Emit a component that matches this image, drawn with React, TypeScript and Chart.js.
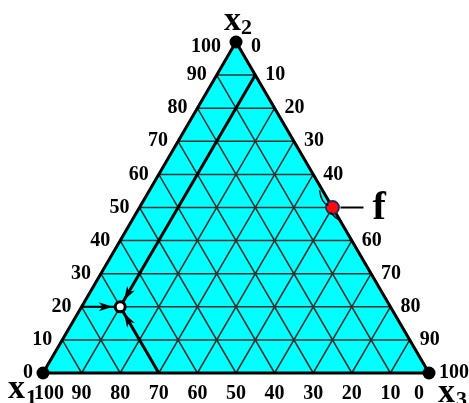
import React, { useEffect, useRef } from 'react';
import { Chart, registerables } from 'chart.js';

Chart.register(...registerables);

// ---- data ----
const gridValues = [10, 20, 30, 40, 50, 60, 70, 80, 90];
const x2Ticks = [100, 90, 80, 70, 60, 50, 40, 30, 20, 10, 0]; // left side
const x3Ticks = [0, 10, 20, 30, 40, 60, 70, 80, 90, 100]; // right side (50 hidden by f)
const x1Ticks = [100, 90, 80, 70, 60, 50, 40, 30, 20, 10, 0]; // bottom
const vertexNames = ['1', '2', '3'];
const mixPoint = [70, 20, 10]; // x1, x2, x3
const feedPoint = [0, 50, 50];
const feedLabel = 'f';
const arrowStarts = [
  [80, 20, 0],
  [70, 0, 30],
  [0, 90, 10],
];

function tern(a: number, b: number, c: number) {
  const s = a + b + c;
  return { x: (c + b / 2) / s, y: b / s };
}

const SERIF = '"Liberation Serif", "Times New Roman", serif';

const decorPlugin = {
  id: 'ternaryDecor',
  afterDatasetsDraw(chart: any) {
    const { ctx } = chart;
    const xs = chart.scales.x;
    const ys = chart.scales.y;
    const P = (a: number, b: number, c: number) => {
      const t = tern(a, b, c);
      return { x: xs.getPixelForValue(t.x), y: ys.getPixelForValue(t.y) };
    };
    ctx.save();
    ctx.fillStyle = '#000';
    ctx.strokeStyle = '#000';

    // arrowheads toward the mix point
    const m = P(mixPoint[0], mixPoint[1], mixPoint[2]);
    arrowStarts.forEach(([a, b, c]) => {
      const s = P(a, b, c);
      const dx = m.x - s.x;
      const dy = m.y - s.y;
      const len = Math.hypot(dx, dy);
      const ux = dx / len;
      const uy = dy / len;
      const tipX = m.x - ux * 7.5;
      const tipY = m.y - uy * 7.5;
      const bx = tipX - ux * 14;
      const by = tipY - uy * 14;
      ctx.beginPath();
      ctx.moveTo(tipX, tipY);
      ctx.lineTo(bx - uy * 4.5, by + ux * 4.5);
      ctx.lineTo(bx + ux * 4, by + uy * 4);
      ctx.lineTo(bx + uy * 4.5, by - ux * 4.5);
      ctx.closePath();
      ctx.fill();
    });

    // feed point decorations
    const f = P(feedPoint[0], feedPoint[1], feedPoint[2]);
    ctx.lineWidth = 1.5;
    ctx.beginPath();
    ctx.moveTo(f.x - 13, f.y - 17);
    ctx.quadraticCurveTo(f.x - 11, f.y - 4, f.x - 4, f.y - 2);
    ctx.stroke();
    ctx.beginPath();
    ctx.moveTo(f.x - 2, f.y + 5);
    ctx.quadraticCurveTo(f.x + 3, f.y + 11, f.x + 9, f.y + 14);
    ctx.stroke();
    ctx.lineWidth = 2;
    ctx.beginPath();
    ctx.moveTo(f.x + 8, f.y);
    ctx.lineTo(f.x + 31, f.y);
    ctx.stroke();
    ctx.font = `bold 40px ${SERIF}`;
    ctx.textAlign = 'left';
    ctx.textBaseline = 'alphabetic';
    ctx.fillText(feedLabel, f.x + 40, f.y + 11);

    // tick labels
    ctx.font = `bold 20px ${SERIF}`;
    ctx.textBaseline = 'middle';
    ctx.textAlign = 'right';
    x2Ticks.forEach((v) => {
      const p = P(100 - v, v, 0);
      const top = v === 100;
      ctx.fillText(String(v), p.x - (top ? 15 : 10), p.y + (top ? 5 : 0));
    });
    ctx.textAlign = 'left';
    x3Ticks.forEach((v) => {
      const p = P(0, 100 - v, v);
      const top = v === 0;
      ctx.fillText(String(v), p.x + (top ? 15 : 10), p.y + (top ? 5 : 0));
    });
    ctx.textAlign = 'center';
    x1Ticks.forEach((v) => {
      const p = P(v, 0, 100 - v);
      const dx = v === 100 ? 6 : v === 0 ? -10 : 0;
      ctx.fillText(String(v), p.x + dx, p.y + 21);
    });

    // vertex names
    ctx.textBaseline = 'alphabetic';
    ctx.textAlign = 'left';
    const v1 = P(100, 0, 0);
    const v2 = P(0, 100, 0);
    const v3 = P(0, 0, 100);
    const drawName = (p: any, dx: number, dy: number, sub: string, sdx: number, sdy: number) => {
      ctx.font = `bold 34px ${SERIF}`;
      ctx.fillText('x', p.x + dx, p.y + dy);
      ctx.font = `bold 22px ${SERIF}`;
      ctx.fillText(sub, p.x + sdx, p.y + sdy);
    };
    drawName(v2, -12, -12, vertexNames[1], 5, -8);
    drawName(v1, -35, 25, vertexNames[0], -17, 31);
    drawName(v3, 9, 29, vertexNames[2], 27, 33);

    ctx.restore();
  },
};

function lineDs(points: { x: number; y: number }[], color: string, width: number, order: number) {
  return {
    type: 'scatter' as const,
    data: points,
    showLine: true,
    borderColor: color,
    borderWidth: width,
    pointRadius: 0,
    fill: false,
    order,
  };
}

export default function App() {
  const ref = useRef<HTMLCanvasElement | null>(null);

  useEffect(() => {
    if (!ref.current) return;
    const T = (a: number, b: number, c: number) => tern(a, b, c);
    const datasets: any[] = [];

    // triangle fill
    datasets.push({
      data: [T(100, 0, 0), T(0, 100, 0), T(0, 0, 100)],
      showLine: true,
      borderWidth: 0,
      borderColor: 'rgba(0,0,0,0)',
      backgroundColor: '#00ffff',
      fill: 'origin',
      pointRadius: 0,
      order: 100,
    });

    // grid lines
    gridValues.forEach((v) => {
      datasets.push(lineDs([T(100 - v, v, 0), T(0, v, 100 - v)], '#3b2c2c', 1.5, 50));
      datasets.push(lineDs([T(v, 0, 100 - v), T(v, 100 - v, 0)], '#3b2c2c', 1.5, 50));
      datasets.push(lineDs([T(100 - v, 0, v), T(0, 100 - v, v)], '#3b2c2c', 1.5, 50));
    });

    // outer triangle
    datasets.push({
      ...lineDs([T(100, 0, 0), T(0, 100, 0), T(0, 0, 100), T(100, 0, 0)], '#000', 3, 20),
      borderJoinStyle: 'miter',
    });

    // construction lines to the mix point
    const m = T(mixPoint[0], mixPoint[1], mixPoint[2]);
    datasets.push(lineDs([T(arrowStarts[0][0], arrowStarts[0][1], arrowStarts[0][2]), m], '#000', 2, 10));
    datasets.push(lineDs([T(arrowStarts[1][0], arrowStarts[1][1], arrowStarts[1][2]), m], '#000', 3, 10));
    datasets.push(lineDs([T(arrowStarts[2][0], arrowStarts[2][1], arrowStarts[2][2]), m], '#000', 3, 10));

    // vertex dots
    datasets.push({
      data: [T(100, 0, 0), T(0, 100, 0), T(0, 0, 100)],
      showLine: false,
      pointRadius: 6.5,
      pointBackgroundColor: '#000',
      pointBorderWidth: 0,
      order: 1,
    });
    // mix point
    datasets.push({
      data: [m],
      showLine: false,
      pointRadius: 5,
      pointBackgroundColor: '#fff',
      pointBorderColor: '#000',
      pointBorderWidth: 3,
      order: 1,
    });
    // feed point
    datasets.push({
      data: [T(feedPoint[0], feedPoint[1], feedPoint[2])],
      showLine: false,
      pointRadius: 6.5,
      pointBackgroundColor: '#ff0a0a',
      pointBorderColor: '#1a2a5a',
      pointBorderWidth: 1.8,
      order: 1,
    });

    const chart = new Chart(ref.current, {
      type: 'scatter',
      data: { datasets },
      options: {
        animation: false,
        responsive: false,
        events: [],
        layout: { padding: 0, autoPadding: false },
        plugins: { legend: { display: false }, tooltip: { enabled: false } },
        scales: {
          x: { type: 'linear', display: false, min: -43 / 386, max: (469 - 43) / 386 },
          y: { type: 'linear', display: false, min: -30 / 331, max: 1 + 42 / 331 },
        },
      },
      plugins: [decorPlugin],
    });
    return () => chart.destroy();
  }, []);

  return (
    <canvas
      ref={ref}
      width={469}
      height={403}
      style={{ position: 'absolute', left: 0, top: 0, display: 'block', background: '#fff' }}
    />
  );
}
